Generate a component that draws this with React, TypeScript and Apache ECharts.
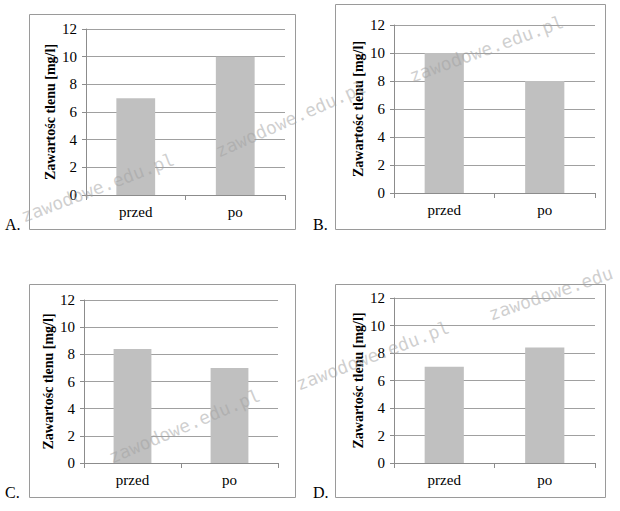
import React, { useEffect, useRef } from "react";
import * as echarts from "echarts";

const categories = ["przed", "po"];
const valuesA = [7, 10];
const valuesB = [10, 8];
const valuesC = [8.4, 7];
const valuesD = [7, 8.4];
const panelNames = ["A.", "B.", "C.", "D."];
const yMin = 0;
const yMax = 12;
const yStep = 2;
const axisTitle = "Zawartośc tlenu [mg/l]";
const watermarkTexts = [
  "zawodowe.edu.pl",
  "zawodowe.edu.pl",
  "zawodowe.edu.pl",
  "zawodowe.edu.pl",
  "zawodowe.edu.pl",
  "zawodowe.edu",
];

const panelValues = [valuesA, valuesB, valuesC, valuesD];

// layout (pixels)
const gridBoxes = [
  { left: 86, top: 29, width: 199, height: 166 },
  { left: 394, top: 25, width: 201, height: 168 },
  { left: 84, top: 300, width: 194, height: 163 },
  { left: 394, top: 298, width: 201, height: 165 },
];
const frameBoxes = [
  { x: 29, y: 14, w: 266, h: 215 },
  { x: 335, y: 4, w: 270, h: 225 },
  { x: 29, y: 284, w: 266, h: 213 },
  { x: 335, y: 284, w: 270, h: 213 },
];
const nameSpots = [
  { x: 5, y: 232 },
  { x: 313, y: 232 },
  { x: 5, y: 500 },
  { x: 313, y: 500 },
];
const watermarkSpots = [
  { x: 25, y: 225, a: 21 },
  { x: 220, y: 160, a: 24 },
  { x: 413, y: 85, a: 20 },
  { x: 113, y: 466, a: 23 },
  { x: 300, y: 393, a: 21 },
  { x: 492, y: 323, a: 19 },
];

const serif = "Liberation Serif";

export default function App() {
  const ref = useRef<HTMLDivElement>(null);

  useEffect(() => {
    document.body.style.margin = "0";
    if (!ref.current) return;
    const chart = echarts.init(ref.current, undefined, { renderer: "svg" });

    const grid = gridBoxes.map((g) => ({ ...g, containLabel: false }));
    const xAxis = gridBoxes.map((_, i) => ({
      type: "category",
      gridIndex: i,
      data: categories,
      axisLine: { show: true, lineStyle: { color: "#8c8c8c", width: 1 } },
      axisTick: { show: true, length: 5, lineStyle: { color: "#8c8c8c" } },
      axisLabel: { color: "#000", fontFamily: serif, fontSize: 15, margin: 9 },
      splitLine: { show: false },
    }));
    const yAxis = gridBoxes.map((_, i) => ({
      type: "value",
      gridIndex: i,
      min: yMin,
      max: yMax,
      interval: yStep,
      name: axisTitle,
      nameLocation: "middle",
      nameGap: 29,
      nameTextStyle: {
        color: "#000",
        fontFamily: serif,
        fontSize: 14,
        fontWeight: "bold",
      },
      axisLine: { show: true, lineStyle: { color: "#8c8c8c", width: 1 } },
      axisTick: { show: true, length: 4, lineStyle: { color: "#8c8c8c" } },
      axisLabel: { color: "#000", fontFamily: serif, fontSize: 15, margin: 9 },
      splitLine: { show: true, lineStyle: { color: "#a0a0a0", width: 1 } },
    }));
    const series = panelValues.map((vals, i) => ({
      type: "bar",
      xAxisIndex: i,
      yAxisIndex: i,
      data: vals,
      barWidth: "39%",
      itemStyle: { color: "#c0c0c0" },
      silent: true,
    }));

    const graphic: any[] = [];
    frameBoxes.forEach((f) => {
      graphic.push({
        type: "rect",
        shape: { x: f.x + 0.5, y: f.y + 0.5, width: f.w, height: f.h },
        style: { fill: "none", stroke: "#9a9a9a", lineWidth: 1 },
        z: 1,
        silent: true,
      });
    });
    panelNames.forEach((n, i) => {
      graphic.push({
        type: "text",
        x: nameSpots[i].x,
        y: nameSpots[i].y,
        style: {
          text: n,
          fill: "#000",
          fontFamily: serif,
          fontSize: 16,
          verticalAlign: "bottom",
          align: "left",
        },
        z: 10,
        silent: true,
      });
    });
    watermarkSpots.forEach((w, i) => {
      graphic.push({
        type: "text",
        x: w.x,
        y: w.y,
        rotation: (w.a * Math.PI) / 180,
        style: {
          text: watermarkTexts[i],
          fill: "rgba(160,160,160,0.5)",
          fontFamily: "DejaVu Sans Mono",
          fontSize: 18,
          verticalAlign: "bottom",
          align: "left",
        },
        z: 100,
        silent: true,
      });
    });

    chart.setOption({
      animation: false,
      backgroundColor: "#fff",
      grid,
      xAxis,
      yAxis,
      series,
      graphic,
    });

    return () => chart.dispose();
  }, []);

  return <div ref={ref} style={{ width: 620, height: 511 }} />;
}
